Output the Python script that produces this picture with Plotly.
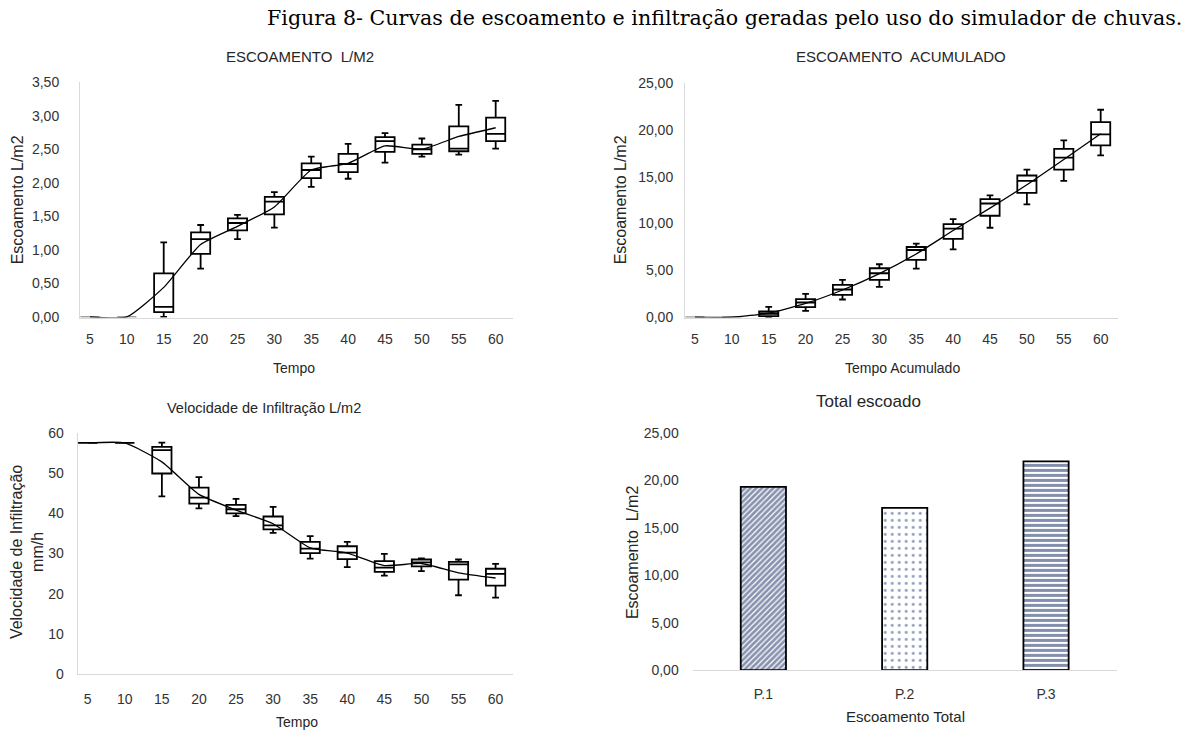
import plotly.graph_objects as go

W, H = 1191, 736

# ---------------- data ----------------
tempo = [5, 10, 15, 20, 25, 30, 35, 40, 45, 50, 55, 60]

# Escoamento L/m2 (box statistics + mean line)
esc_min  = [0, 0, 0.00, 0.72, 1.16, 1.33, 1.94, 2.06, 2.30, 2.39, 2.42, 2.51]
esc_q1   = [0, 0, 0.07, 0.94, 1.29, 1.53, 2.07, 2.16, 2.46, 2.43, 2.47, 2.62]
esc_med  = [0, 0, 0.15, 1.16, 1.40, 1.72, 2.19, 2.28, 2.62, 2.50, 2.51, 2.73]
esc_q3   = [0, 0, 0.65, 1.26, 1.47, 1.79, 2.29, 2.43, 2.68, 2.57, 2.84, 2.97]
esc_max  = [0, 0, 1.11, 1.37, 1.52, 1.86, 2.39, 2.58, 2.74, 2.66, 3.16, 3.22]
esc_mean = [0, 0, 0.44, 1.08, 1.35, 1.64, 2.19, 2.29, 2.55, 2.50, 2.69, 2.82]

# Escoamento acumulado
acc_min  = [0, 0, 0.00, 0.67, 1.88, 3.23, 5.18, 7.24, 9.55, 12.04, 14.56, 17.29]
acc_q1   = [0, 0, 0.11, 1.07, 2.38, 3.98, 6.11, 8.35, 10.83, 13.28, 15.77, 18.36]
acc_med  = [0, 0, 0.36, 1.56, 2.95, 4.69, 7.17, 9.45, 12.14, 14.56, 17.05, 19.53]
acc_q3   = [0, 0, 0.60, 1.92, 3.44, 5.22, 7.49, 9.94, 12.60, 15.13, 17.97, 20.84]
acc_max  = [0, 0, 1.10, 2.49, 3.98, 5.65, 7.85, 10.48, 13.00, 15.77, 18.89, 22.16]
acc_mean = [0, 0, 0.43, 1.46, 2.90, 4.65, 6.75, 9.25, 11.65, 14.15, 16.85, 19.60]

# Velocidade de infiltração mm/h
inf_min  = [57.5, 57.5, 44.2, 41.2, 39.3, 35.1, 28.7, 26.6, 24.5, 25.6, 19.6, 19.0]
inf_q1   = [57.5, 57.5, 49.9, 42.4, 40.0, 36.0, 30.1, 28.6, 25.4, 26.8, 23.5, 22.0]
inf_med  = [57.5, 57.5, 55.7, 43.9, 41.0, 37.0, 31.2, 30.2, 26.5, 27.8, 27.3, 24.9]
inf_q3   = [57.5, 57.5, 56.5, 46.4, 42.1, 39.2, 32.9, 31.8, 28.1, 28.5, 27.9, 26.2]
inf_max  = [57.5, 57.5, 57.6, 49.0, 43.6, 41.6, 34.3, 32.9, 29.9, 28.8, 28.5, 27.4]
inf_mean = [57.5, 57.5, 52.8, 44.7, 40.8, 37.4, 31.4, 30.1, 27.0, 27.5, 25.2, 23.9]

# Total escoado
parcelas = ["P.1", "P.2", "P.3"]
total_escoado = [19.3, 17.1, 22.0]

# ---------------- helpers ----------------
def fx(px):
    return px / W

# vertical placement helper (calibrated against the rendered page)
Y0, YH = 7.5, 720.5
def fy(py):
    return 1 - (py - Y0) / YH

SANS = "Liberation Sans, Arial, sans-serif"
TICKFONT = dict(family=SANS, size=14, color="#333333")
AXCOL = "#d9d9d9"

fig = go.Figure()


def add_boxes(xa, ya, mn, q1, md, q3, mx, mean, gray_zero):
    idx_flat = [i for i in range(len(tempo)) if gray_zero and mx[i] == 0]
    idx_main = [i for i in range(len(tempo)) if i not in idx_flat]
    groups = [(idx_main, "#000000")]
    if idx_flat:
        groups.append((idx_flat, "#a0a0a0"))
    for idx, col in groups:
        fig.add_trace(go.Box(
            x=[tempo[i] for i in idx],
            q1=[q1[i] for i in idx], median=[md[i] for i in idx], q3=[q3[i] for i in idx],
            lowerfence=[mn[i] for i in idx], upperfence=[mx[i] for i in idx],
            orientation="v", width=2.6, whiskerwidth=0.35,
            fillcolor="white", line=dict(color=col, width=1.8),
            boxpoints=False, showlegend=False, hoverinfo="skip",
            xaxis=xa, yaxis=ya,
        ))
    fig.add_trace(go.Scatter(
        x=tempo, y=mean, mode="lines",
        line=dict(color="black", width=1.3, shape="spline", smoothing=0.5),
        showlegend=False, hoverinfo="skip", xaxis=xa, yaxis=ya,
    ))


add_boxes("x", "y", esc_min, esc_q1, esc_med, esc_q3, esc_max, esc_mean, True)
add_boxes("x2", "y2", acc_min, acc_q1, acc_med, acc_q3, acc_max, acc_mean, True)
add_boxes("x3", "y3", inf_min, inf_q1, inf_med, inf_q3, inf_max, inf_mean, False)

fig.add_trace(go.Bar(
    x=parcelas, y=total_escoado, width=0.32,
    marker=dict(
        color="white",
        line=dict(color="black", width=1.8),
        pattern=dict(shape=["/", ".", "-"], fillmode="overlay",
                     fgcolor=["#0f255e", "#1a3580", "#0a1f5a"], bgcolor="white",
                     size=[4, 7, 5], solidity=[0.7, 0.14, 0.6]),
    ),
    showlegend=False, hoverinfo="skip", xaxis="x4", yaxis="y4",
))

def xax(d0, d1, rng, anchor, standoff=12):
    return dict(domain=[fx(d0), fx(d1)], range=rng, tickvals=tempo, ticktext=[str(t) for t in tempo],
                showline=True, linecolor=AXCOL, linewidth=1, showgrid=False, zeroline=False,
                ticks="", tickfont=TICKFONT, ticklabelstandoff=standoff, anchor=anchor, fixedrange=True)

def yax(top, bot, rng, dtick, fmt, anchor, standoff, showline=True):
    return dict(domain=[fy(bot), fy(top)], range=rng, dtick=dtick, tick0=0, tickformat=fmt,
                showline=showline, linecolor=AXCOL, linewidth=1, showgrid=False, zeroline=False,
                ticks="", tickfont=TICKFONT, ticklabelstandoff=standoff, anchor=anchor, fixedrange=True)

xr = [3.65, 62.35]
fig.update_layout(
    width=W, height=H, margin=dict(l=0, r=0, t=0, b=0),
    paper_bgcolor="white", plot_bgcolor="white",
    separators=",.",
    font=dict(family=SANS, color="#333333"),
    xaxis=xax(80, 513, xr, "y", 9),
    yaxis=yax(81.7, 317.3, [-0.01, 3.5], 0.5, ".2f", "x", 17),
    xaxis2=xax(685, 1118, xr, "y2", 9),
    yaxis2=yax(82.7, 317.3, [-0.05, 25], 5, ".2f", "x2", 8),
    xaxis3=xax(77.7, 513, xr, "y3", 12),
    yaxis3=yax(432.7, 674, [0, 60], 10, "d", "x3", 10),
    xaxis4=dict(domain=[fx(692.7), fx(1116.7)], showline=True, linecolor=AXCOL, linewidth=1,
                showgrid=False, zeroline=False, ticks="", tickfont=TICKFONT,
                ticklabelstandoff=11, anchor="y4", fixedrange=True),
    yaxis4=yax(432.7, 670, [0, 25], 5, ".2f", "x4", 13, showline=False),
)

ann = []
def label(text, px, py, size, angle=0, color="#262626", family=SANS):
    ann.append(dict(text=text, x=fx(px), y=fy(py), xref="paper", yref="paper",
                    showarrow=False, textangle=angle, xanchor="center", yanchor="middle",
                    font=dict(size=size, color=color, family=family)))

label("Figura 8- Curvas de escoamento e infiltração geradas pelo uso do simulador de chuvas.",
      724, 18, 20.6, color="black", family="DejaVu Serif, Liberation Serif, serif")
label("ESCOAMENTO  L/M2", 300, 56, 15)
label("ESCOAMENTO  ACUMULADO", 901, 56, 15)
label("Velocidade de Infiltração L/m2", 264, 408, 14.5)
label("Total escoado", 868, 401, 17)
label("Escoamento L/m2", 17, 200, 16, -90)
label("Escoamento L/m2", 620, 200, 16, -90)
label("Velocidade de Infiltração<br>mm/h", 27, 552, 16, -90)
label("Escoamento  L/m2", 632, 552, 16, -90)
label("Tempo", 294, 368, 14)
label("Tempo Acumulado", 902, 368, 14)
label("Tempo", 297, 722, 14)
label("Escoamento Total", 905, 716, 15)
fig.update_layout(annotations=ann)

fig.write_html("out.html")
